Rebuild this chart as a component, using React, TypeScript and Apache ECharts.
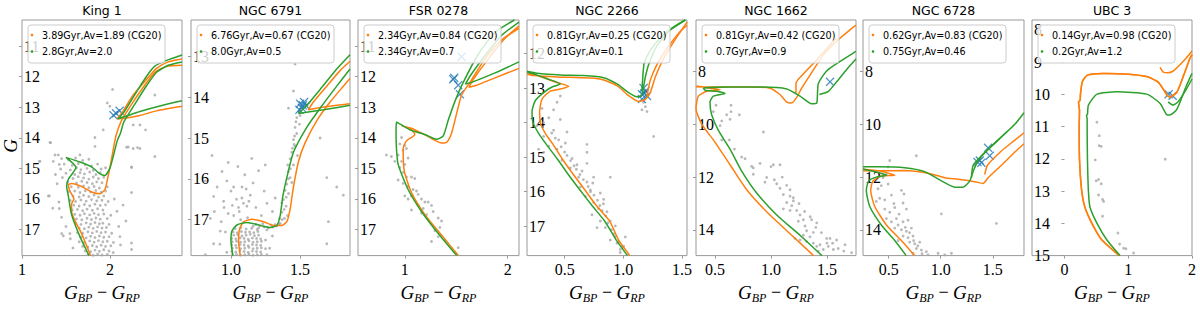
import { useEffect, useRef } from 'react';
import * as echarts from 'echarts';

const titles = ['King 1', 'NGC 6791', 'FSR 0278', 'NGC 2266', 'NGC 1662', 'NGC 6728', 'UBC 3'];
const orangeLabels = ['3.89Gyr,Av=1.89 (CG20)', '6.76Gyr,Av=0.67 (CG20)', '2.34Gyr,Av=0.84 (CG20)', '0.81Gyr,Av=0.25 (CG20)', '0.81Gyr,Av=0.42 (CG20)', '0.62Gyr,Av=0.83 (CG20)', '0.14Gyr,Av=0.98 (CG20)'];
const greenLabels = ['2.8Gyr,Av=2.0', '8.0Gyr,Av=0.5', '2.34Gyr,Av=0.7', '0.81Gyr,Av=0.1', '0.7Gyr,Av=0.9', '0.75Gyr,Av=0.46', '0.2Gyr,Av=1.2'];
const xLimits = [[1, 2.82], [0.711, 1.861], [0.545, 2.11], [0.179, 1.543], [0.33, 1.759], [0.253, 1.8], [-0.51, 2.0]];
const yLimits = [[10.15, 17.85], [12.11, 17.88], [10.15, 17.85], [11.03, 17.85], [6.05, 14.97], [6.05, 14.97], [7.69, 15.0]];
const xTicks = [[1, 2], [1.0, 1.5], [1, 2], [0.5, 1.0, 1.5], [0.5, 1.0, 1.5], [0.5, 1.0, 1.5], [0, 1, 2]];
const xDecimals = [0, 1, 0, 1, 1, 1, 0];
const yTicks = [[11, 12, 13, 14, 15, 16, 17], [13, 14, 15, 16, 17], [11, 12, 13, 14, 15, 16, 17], [12, 13, 14, 15, 16, 17], [8, 10, 12, 14], [8, 10, 12, 14], [8, 9, 10, 11, 12, 13, 14, 15]];

// ---------- King 1 ----------
const king1OrangeA = [[1.84, 18.2], [1.773, 17.8], [1.678, 17.13], [1.6, 16.7], [1.564, 16.41], [1.564, 16.16], [1.591, 16.0], [1.545, 15.74], [1.527, 15.54], [1.564, 15.49], [1.678, 15.59], [1.792, 15.77], [1.886, 15.83], [1.943, 15.69], [1.97, 15.38], [2.0, 14.97], [2.027, 14.56], [2.068, 13.94], [2.133, 13.43], [2.246, 12.91], [2.379, 12.35], [2.511, 11.86], [2.644, 11.67], [2.822, 11.63], [3.0, 11.58]];
const king1OrangeB = [[3.0, 12.9], [2.822, 12.97], [2.53, 13.12], [2.341, 13.27], [2.189, 13.35], [2.083, 13.38], [2.152, 13.12], [2.265, 12.6], [2.417, 12.09], [2.53, 11.73], [2.663, 11.52], [2.822, 11.42], [3.0, 11.35]];
const king1GreenA = [[1.82, 18.2], [1.754, 17.8], [1.659, 17.23], [1.564, 16.51], [1.527, 15.9], [1.508, 15.59], [1.527, 15.36], [1.583, 15.13], [1.614, 14.97], [1.5, 14.64], [1.659, 14.79], [1.792, 14.95], [1.879, 15.16], [1.943, 15.23], [2.0, 14.99], [2.038, 14.61], [2.083, 14.1], [2.121, 13.84], [2.159, 13.48], [2.303, 12.81], [2.417, 12.3], [2.53, 11.86], [2.663, 11.63], [2.822, 11.52], [3.0, 11.45]];
const king1GreenB = [[3.0, 12.65], [2.822, 12.79], [2.568, 12.96], [2.341, 13.14], [2.208, 13.27], [2.095, 13.38], [2.17, 13.12], [2.303, 12.5], [2.417, 11.99], [2.511, 11.66], [2.644, 11.47], [2.822, 11.29], [3.0, 11.2]];
const king1Stars = [[2.04, 13.26], [2.07, 13.2], [2.11, 13.12]];
const king1Points = [
  [2.03, 12.42], [1.97, 12.86], [2.0, 12.97], [1.924, 13.74], [2.405, 13.74], [2.511, 12.6], [1.318, 14.15], [1.83, 13.99], [2.208, 14.3], [2.314, 14.32], [2.246, 14.97], [1.3, 15.9], [1.197, 14.77], [2.246, 15.79], [2.246, 17.44], [2.265, 13.58], [2.341, 13.58],
  [1.326, 14.16], [1.375, 14.56], [1.413, 14.56], [1.356, 14.77], [1.424, 14.87], [1.205, 14.77], [1.311, 15.9], [1.424, 16.31], [1.451, 17.13], [1.545, 17.13], [1.659, 14.56], [1.83, 14.28], [2.189, 14.31], [2.265, 14.35], [2.341, 14.35], [2.511, 14.61], [2.246, 14.95], [2.182, 16.72], [2.246, 17.65], [2.114, 17.23], [2.038, 17.75],
  [1.45, 14.68], [1.53, 14.72], [1.61, 14.66], [1.69, 14.74], [1.76, 14.7],
  [1.48, 14.86], [1.57, 14.9], [1.64, 14.84], [1.72, 14.88], [1.79, 14.92], [1.86, 14.86],
  [1.44, 15.02], [1.55, 15.05], [1.62, 14.98], [1.67, 15.04], [1.74, 15.0], [1.81, 15.06], [1.9, 15.02], [1.95, 14.98],
  [1.5, 15.16], [1.6, 15.2], [1.66, 15.14], [1.71, 15.18], [1.77, 15.12], [1.84, 15.2], [1.89, 15.14],
  [1.46, 15.3], [1.58, 15.33], [1.64, 15.27], [1.7, 15.31], [1.76, 15.35], [1.81, 15.28], [1.87, 15.33], [1.93, 15.29],
  [1.52, 15.45], [1.62, 15.48], [1.68, 15.42], [1.74, 15.46], [1.8, 15.5], [1.85, 15.44], [1.91, 15.47],
  [1.56, 15.6], [1.64, 15.62], [1.7, 15.57], [1.76, 15.63], [1.82, 15.59], [1.88, 15.64], [1.97, 15.6],
  [1.53, 15.76], [1.6, 15.74], [1.66, 15.79], [1.72, 15.73], [1.78, 15.77], [1.84, 15.72], [1.9, 15.78], [1.95, 15.74],
  [1.58, 15.9], [1.65, 15.93], [1.7, 15.88], [1.76, 15.92], [1.82, 15.87], [1.87, 15.94], [1.93, 15.9],
  [1.55, 16.05], [1.61, 16.08], [1.67, 16.03], [1.73, 16.07], [1.79, 16.02], [1.85, 16.06], [1.91, 16.04], [1.98, 16.08],
  [1.59, 16.2], [1.65, 16.23], [1.71, 16.18], [1.77, 16.22], [1.83, 16.17], [1.89, 16.21], [1.95, 16.19],
  [1.57, 16.36], [1.63, 16.34], [1.69, 16.38], [1.74, 16.33], [1.8, 16.37], [1.86, 16.32], [1.92, 16.36],
  [1.6, 16.5], [1.66, 16.53], [1.71, 16.48], [1.77, 16.52], [1.82, 16.47], [1.87, 16.51], [1.93, 16.49], [2.01, 16.53],
  [1.62, 16.65], [1.68, 16.68], [1.74, 16.63], [1.79, 16.67], [1.84, 16.62], [1.89, 16.66], [1.97, 16.64],
  [1.61, 16.8], [1.67, 16.83], [1.73, 16.78], [1.78, 16.82], [1.83, 16.77], [1.88, 16.81], [1.92, 16.79], [1.99, 16.83],
  [1.65, 16.95], [1.71, 16.97], [1.76, 16.92], [1.81, 16.96], [1.86, 16.91], [1.91, 16.95], [1.96, 16.93],
  [1.63, 17.1], [1.69, 17.12], [1.75, 17.07], [1.8, 17.11], [1.85, 17.06], [1.9, 17.1], [1.95, 17.08], [2.02, 17.12],
  [1.67, 17.25], [1.73, 17.27], [1.78, 17.22], [1.83, 17.26], [1.88, 17.21], [1.93, 17.25], [1.99, 17.23],
  [1.65, 17.4], [1.71, 17.42], [1.77, 17.37], [1.82, 17.41], [1.87, 17.36], [1.92, 17.4], [1.97, 17.38], [2.04, 17.42],
  [1.69, 17.55], [1.75, 17.57], [1.8, 17.52], [1.85, 17.56], [1.9, 17.51], [1.95, 17.55], [2.01, 17.53],
  [1.72, 17.7], [1.78, 17.72], [1.83, 17.67], [1.88, 17.71], [1.93, 17.66], [1.99, 17.7],
  [1.75, 17.82], [1.81, 17.84], [1.86, 17.8], [1.91, 17.83], [1.97, 17.81],
  [1.4, 15.5], [1.42, 16.1], [1.45, 16.6], [1.5, 16.9], [1.55, 17.3], [1.58, 17.6], [2.05, 16.0], [2.08, 16.4], [2.1, 16.9], [2.12, 17.5], [2.15, 16.2], [1.38, 15.2], [1.35, 16.3], [1.47, 17.2]
];

// ---------- NGC 6791 ----------
const n6791OrangeA = [[1.07, 18.1], [1.067, 17.88], [1.055, 17.51], [1.062, 17.24], [1.091, 17.05], [1.152, 16.99], [1.236, 17.05], [1.308, 17.14], [1.368, 17.14], [1.404, 17.05], [1.428, 16.74], [1.452, 16.2], [1.488, 15.58], [1.536, 15.12], [1.62, 14.58], [1.717, 14.12], [1.813, 13.73], [1.861, 13.54], [1.981, 13.15]];
const n6791OrangeB = [[1.98, 14.12], [1.861, 14.16], [1.693, 14.23], [1.56, 14.31], [1.596, 14.12], [1.693, 13.73], [1.789, 13.35], [1.861, 13.12], [1.98, 12.85]];
const n6791GreenA = [[1.02, 18.1], [1.014, 17.88], [1.0, 17.51], [1.007, 17.28], [1.043, 17.13], [1.115, 17.07], [1.212, 17.14], [1.284, 17.19], [1.332, 17.14], [1.356, 16.9], [1.375, 16.43], [1.404, 15.97], [1.452, 15.35], [1.548, 14.74], [1.645, 14.27], [1.765, 13.73], [1.861, 13.31], [1.98, 12.88]];
const n6791GreenB = [[1.98, 14.12], [1.861, 14.2], [1.669, 14.31], [1.488, 14.4], [1.548, 14.2], [1.645, 13.81], [1.765, 13.31], [1.861, 12.96], [1.98, 12.6]];
const n6791Stars = [[1.5, 14.16], [1.529, 14.12], [1.512, 14.26], [1.544, 14.21], [1.495, 14.31], [1.52, 14.2]];
const n6791Points = [
  [0.863, 15.43], [0.935, 15.82], [0.815, 16.05], [1.019, 16.2], [0.875, 16.43], [0.947, 16.55], [1.079, 16.47], [1.055, 16.7], [1.115, 16.67], [0.851, 16.97], [0.923, 17.28], [0.875, 17.59], [0.815, 17.86], [1.248, 15.66], [1.32, 16.47], [1.693, 15.97], [1.464, 13.19], [1.452, 13.85], [1.416, 14.27], [1.645, 15.0], [1.765, 16.2], [1.813, 16.4], [1.705, 17.05], [1.693, 17.59],
  [1.476, 14.5], [1.464, 14.74], [1.476, 14.89], [1.452, 15.04], [1.464, 15.2], [1.44, 15.35], [1.428, 15.51], [1.452, 15.66], [1.416, 15.82], [1.428, 15.97], [1.404, 16.13], [1.392, 16.28], [1.416, 16.36], [1.38, 16.51], [1.399, 16.67], [1.368, 16.82], [1.387, 16.97], [1.356, 17.09], [1.495, 14.66], [1.457, 15.16], [1.481, 15.43], [1.411, 15.66], [1.44, 16.09], [1.368, 16.59], [1.409, 16.9], [1.351, 16.97], [1.49, 14.35], [1.47, 14.6], [1.445, 15.25], [1.43, 15.75], [1.415, 16.0], [1.4, 16.45], [1.385, 16.75], [1.37, 17.0], [1.5, 14.45], [1.46, 14.95],
  [1.16, 17.16], [1.18, 17.12], [1.21, 17.15], [1.24, 17.18], [1.27, 17.2], [1.3, 17.18], [1.33, 17.16], [1.2, 17.2], [1.26, 17.25], [1.32, 17.12], [1.35, 17.1], [1.23, 17.1], [1.29, 17.13],
  [1.03, 17.22], [1.07, 17.2], [1.11, 17.23], [1.15, 17.21], [1.19, 17.24],
  [1.015, 17.3], [1.045, 17.32], [1.075, 17.29], [1.105, 17.31], [1.135, 17.3], [1.165, 17.32], [1.195, 17.29],
  [1.02, 17.38], [1.05, 17.37], [1.08, 17.4], [1.11, 17.38], [1.14, 17.36], [1.17, 17.39], [1.2, 17.38],
  [1.005, 17.46], [1.035, 17.47], [1.065, 17.45], [1.095, 17.46], [1.125, 17.48], [1.155, 17.45], [1.185, 17.46], [1.215, 17.47],
  [1.01, 17.54], [1.04, 17.53], [1.07, 17.55], [1.1, 17.54], [1.13, 17.52], [1.16, 17.55], [1.19, 17.54], [1.22, 17.53],
  [1.005, 17.62], [1.035, 17.63], [1.065, 17.61], [1.095, 17.62], [1.125, 17.64], [1.155, 17.61], [1.185, 17.62], [1.215, 17.63],
  [1.01, 17.7], [1.04, 17.69], [1.07, 17.71], [1.1, 17.7], [1.13, 17.68], [1.16, 17.71], [1.19, 17.7], [1.22, 17.69], [1.25, 17.71],
  [1.005, 17.78], [1.035, 17.79], [1.065, 17.77], [1.095, 17.78], [1.125, 17.8], [1.155, 17.77], [1.185, 17.78], [1.215, 17.79],
  [1.01, 17.86], [1.04, 17.85], [1.07, 17.87], [1.1, 17.86], [1.13, 17.84], [1.16, 17.87], [1.19, 17.86], [1.22, 17.85], [1.26, 17.86],
  [0.93, 17.05], [0.96, 17.3], [0.92, 17.6], [0.97, 17.8], [1.25, 17.5], [1.28, 17.7], [1.3, 17.4], [0.98, 16.85], [1.02, 16.9], [1.06, 16.8], [1.12, 16.95], [1.09, 16.6], [1.04, 16.5], [1.14, 16.4], [1.0, 16.3], [1.18, 16.7], [1.22, 16.9], [1.26, 16.6], [0.95, 16.7], [1.08, 16.2], [1.16, 16.1], [0.9, 16.2], [1.1, 15.9], [1.2, 15.8], [1.05, 15.7], [0.98, 15.6], [1.13, 16.55], [1.07, 17.0], [1.01, 16.65], [0.88, 16.8], [1.24, 16.3], [1.3, 16.8], [1.15, 15.5], [0.97, 16.05], [1.11, 16.25]
];

// ---------- FSR 0278 ----------
const fsrOrangeA = [[1.55, 18.1], [1.519, 17.83], [1.357, 17.18], [1.195, 16.51], [1.065, 15.79], [0.994, 15.07], [0.984, 14.35], [1.016, 14.1], [1.097, 13.89], [1.049, 13.69], [0.968, 13.61], [1.065, 13.69], [1.227, 13.96], [1.357, 14.17], [1.406, 14.15], [1.455, 13.84], [1.503, 13.22], [1.552, 12.6], [1.643, 12.14], [1.779, 11.42], [1.942, 10.8], [2.11, 10.42], [2.2, 10.3]];
const fsrOrangeB = [[2.2, 11.62], [2.11, 11.73], [1.877, 12.04], [1.682, 12.3], [1.623, 12.35], [1.666, 12.09], [1.812, 11.42], [1.974, 10.75], [2.11, 10.34], [2.2, 10.2]];
const fsrGreenA = [[1.53, 18.1], [1.503, 17.83], [1.325, 17.13], [1.162, 16.41], [1.032, 15.69], [0.935, 14.87], [0.919, 14.35], [0.915, 13.9], [0.919, 13.48], [1.049, 13.74], [1.195, 13.89], [1.308, 14.05], [1.373, 13.94], [1.422, 13.43], [1.487, 12.81], [1.568, 12.19], [1.714, 11.27], [1.877, 10.55], [2.071, 10.14], [2.2, 9.95]];
const fsrGreenB = [[2.2, 11.45], [2.11, 11.52], [1.877, 11.88], [1.649, 12.19], [1.591, 12.24], [1.633, 11.99], [1.779, 11.32], [1.942, 10.65], [2.11, 10.22], [2.2, 10.1]];
const fsrStars = [[1.471, 12.09], [1.48, 12.04], [1.519, 12.28], [1.536, 12.58], [1.552, 11.35]];
const fsrPoints = [[0.968, 13.99], [0.951, 14.2], [1.0, 14.25], [0.984, 14.41], [1.016, 14.35], [0.935, 14.56], [0.87, 14.61], [0.821, 14.56], [0.903, 14.77], [0.968, 14.77], [1.0, 14.87], [1.032, 14.66], [0.951, 14.97], [0.984, 15.13], [1.016, 15.28], [1.065, 15.28], [1.097, 15.33], [0.935, 15.38], [0.984, 15.49], [1.032, 15.59], [1.081, 15.69], [1.114, 15.74], [1.13, 15.85], [1.162, 16.0], [1.195, 16.1], [1.227, 16.1], [1.26, 16.21], [1.179, 16.31], [1.13, 16.21], [1.065, 15.9], [1.0, 15.9], [1.032, 16.0], [1.162, 16.46], [1.211, 16.51], [1.276, 16.41], [1.325, 16.62], [1.357, 16.72], [1.341, 16.93], [1.292, 17.03], [1.26, 17.39], [1.325, 17.23], [1.39, 17.34], [1.519, 17.59], [1.065, 16.36]];

// ---------- NGC 2266 ----------
const n2266OrangeA = [[1.08, 18.1], [1.051, 17.83], [0.96, 17.4], [0.884, 16.85], [0.77, 16.4], [0.662, 15.9], [0.563, 15.45], [0.477, 15.04], [0.401, 14.63], [0.335, 14.31], [0.293, 14.0], [0.287, 13.68], [0.307, 13.32], [0.378, 13.09], [0.463, 13.03], [0.534, 12.95], [0.435, 12.84], [0.307, 12.68], [0.179, 12.54], [0.05, 12.47], [0.05, 12.52], [0.236, 12.64], [0.435, 12.68], [0.634, 12.7], [0.804, 12.74], [0.946, 12.93], [1.045, 13.22], [1.131, 13.39], [1.188, 13.33], [1.23, 13.13], [1.273, 12.68], [1.344, 12.14], [1.443, 11.59], [1.543, 11.09], [1.628, 10.87]];
const n2266OrangeB = [[1.202, 13.23], [1.23, 12.77], [1.287, 12.32], [1.372, 11.86], [1.472, 11.41], [1.543, 11.18], [1.628, 11.05]];
const n2266GreenA = [[1.06, 18.1], [1.031, 17.83], [0.94, 17.4], [0.841, 16.85], [0.733, 16.4], [0.619, 15.9], [0.52, 15.45], [0.435, 15.04], [0.344, 14.63], [0.278, 14.31], [0.23, 14.0], [0.222, 13.68], [0.25, 13.36], [0.321, 13.13], [0.392, 12.97], [0.463, 12.88], [0.349, 12.73], [0.236, 12.59], [0.122, 12.5], [0.05, 12.47], [0.05, 12.43], [0.122, 12.48], [0.264, 12.57], [0.463, 12.62], [0.662, 12.64], [0.832, 12.7], [0.946, 12.88], [1.045, 13.13], [1.116, 13.25], [1.151, 13.23], [1.168, 13.04], [1.188, 12.68], [1.216, 12.32], [1.287, 11.77], [1.401, 11.32], [1.543, 11.0], [1.628, 10.87]];
const n2266GreenB = [[1.159, 13.09], [1.168, 12.59], [1.179, 12.27], [1.23, 11.91], [1.315, 11.55], [1.429, 11.23], [1.528, 11.03], [1.628, 10.9]];
const n2266Stars = [[1.159, 13.18], [1.188, 13.09], [1.173, 13.0], [1.202, 13.23], [1.159, 13.32], [1.18, 13.15]];
const n2266Points = [[0.463, 13.23], [0.435, 13.41], [0.406, 13.63], [0.307, 13.59], [0.364, 13.86], [0.463, 13.91], [0.321, 14.0], [0.264, 14.09], [0.406, 14.22], [0.321, 14.4], [0.449, 14.5], [0.506, 14.59], [0.364, 14.68], [0.278, 14.77], [0.321, 14.86], [0.435, 14.77], [0.52, 14.95], [0.563, 15.04], [0.477, 15.09], [0.605, 15.22], [0.548, 15.31], [0.648, 15.4], [0.69, 15.18], [0.619, 15.58], [0.69, 15.72], [0.747, 15.58], [0.634, 15.86], [0.719, 15.95], [0.804, 16.04], [0.889, 15.58], [0.676, 16.13], [0.747, 16.31], [0.832, 16.22], [0.79, 16.49], [0.861, 16.58], [0.804, 16.85], [0.889, 16.85], [0.847, 17.04], [0.918, 17.22], [0.889, 17.4], [0.946, 17.49], [1.003, 17.58], [0.974, 17.67], [1.017, 17.31], [0.932, 16.99], [0.733, 16.67], [0.776, 17.04], [0.974, 17.76], [1.259, 14.4], [1.173, 13.41], [1.188, 13.54], [1.202, 13.68], [1.159, 13.63], [0.69, 14.63], [0.52, 14.27], [0.69, 14.86], [0.39, 14.3], [0.42, 14.45], [0.47, 14.7], [0.5, 14.85], [0.55, 15.1], [0.58, 15.25], [0.6, 15.35], [0.63, 15.5], [0.66, 15.65], [0.7, 15.85], [0.72, 16.0], [0.75, 16.1], [0.78, 16.25], [0.8, 16.4], [0.82, 16.55], [0.85, 16.7], [0.87, 16.9], [0.9, 17.1], [0.93, 17.3], [0.96, 17.45], [0.99, 17.6], [0.83, 16.35], [0.74, 15.75]];

// ---------- NGC 1662 ----------
const n1662OrangeA = [[1.42, 15.4], [1.378, 14.95], [1.17, 14.14], [0.961, 13.31], [0.783, 12.48], [0.634, 11.53], [0.485, 10.59], [0.381, 9.99], [0.33, 9.4], [0.351, 8.93], [0.426, 8.75], [0.545, 8.69], [0.455, 8.63], [0.336, 8.55], [0.247, 8.51], [0.2, 8.5], [0.2, 8.57], [0.247, 8.57], [0.485, 8.59], [0.783, 8.59], [0.991, 8.63], [1.08, 8.87], [1.14, 9.16], [1.185, 9.19], [1.229, 8.98], [1.274, 8.63], [1.363, 8.04], [1.467, 7.38], [1.586, 6.85], [1.735, 6.32], [1.795, 6.14], [1.85, 5.9]];
const n1662OrangeB = [[1.223, 8.81], [1.223, 8.45], [1.289, 8.09], [1.408, 7.56], [1.557, 6.85], [1.586, 6.73]];
const n1662GreenA = [[1.5, 15.4], [1.452, 14.95], [1.259, 14.2], [1.051, 13.43], [0.872, 12.6], [0.738, 11.77], [0.634, 10.94], [0.53, 10.23], [0.47, 9.64], [0.455, 9.16], [0.485, 8.93], [0.589, 8.83], [0.515, 8.75], [0.411, 8.71], [0.396, 8.63], [0.634, 8.59], [0.932, 8.59], [1.14, 8.66], [1.259, 8.93], [1.363, 9.22], [1.408, 9.19], [1.414, 8.93], [1.423, 8.45], [1.497, 7.98], [1.616, 7.62], [1.75, 7.26], [1.854, 7.03]];
const n1662GreenB = [[1.432, 8.87], [1.512, 8.75], [1.586, 8.39], [1.676, 7.92], [1.765, 7.5], [1.85, 7.1]];
const n1662Stars = [[1.527, 8.39]];
const n1662Points = [[0.509, 9.28], [0.643, 9.28], [0.485, 9.52], [0.643, 9.52], [0.717, 9.64], [0.56, 9.87], [0.545, 10.05], [0.634, 9.81], [0.56, 10.59], [0.628, 10.59], [0.673, 10.94], [0.932, 10.29], [0.738, 11.24], [0.768, 11.3], [0.827, 11.59], [0.842, 11.65], [0.902, 11.48], [1.021, 11.53], [1.08, 11.53], [0.842, 11.89], [0.961, 12.01], [0.946, 12.19], [1.051, 12.25], [1.08, 12.42], [1.14, 12.31], [1.17, 12.48], [1.11, 12.66], [1.17, 12.72], [1.199, 12.78], [1.14, 12.96], [1.185, 13.08], [1.11, 13.2], [1.17, 13.26], [1.229, 13.26], [1.259, 13.43], [1.244, 13.67], [1.289, 13.61], [1.363, 13.61], [1.408, 13.73], [1.304, 13.85], [1.318, 14.03], [1.378, 14.09], [1.289, 14.2], [1.214, 14.32], [1.259, 14.38], [1.348, 14.26], [1.318, 14.44], [1.378, 14.5], [1.408, 14.62], [1.437, 14.56], [1.497, 14.32], [1.527, 14.32], [1.586, 14.38], [1.512, 14.62], [1.557, 14.74], [1.661, 14.56], [1.72, 14.86], [1.467, 14.74], [1.423, 14.8], [0.604, 9.64], [1.0, 11.6], [1.03, 12.1], [1.1, 12.0], [1.2, 12.9], [1.25, 13.0], [1.3, 13.3], [1.35, 13.5], [1.4, 13.9], [1.45, 14.1], [1.5, 14.5], [1.55, 14.5], [1.6, 14.7], [1.65, 14.8]];

// ---------- NGC 6728 ----------
const n6728OrangeA = [[0.79, 15.3], [0.75, 14.98], [0.622, 14.4], [0.478, 13.81], [0.365, 13.1], [0.327, 12.5], [0.349, 12.14], [0.429, 11.96], [0.558, 11.93], [0.462, 11.81], [0.333, 11.73], [0.205, 11.69], [0.15, 11.7], [0.15, 11.76], [0.205, 11.76], [0.397, 11.76], [0.654, 11.75], [0.878, 11.85], [1.038, 12.02], [1.167, 12.08], [1.327, 12.17], [1.407, 12.24], [1.455, 12.02], [1.583, 11.55], [1.712, 11.05], [1.824, 10.65]];
const n6728OrangeB = [[1.423, 11.9], [1.449, 11.55], [1.583, 11.01], [1.712, 10.6], [1.824, 10.24]];
const n6728GreenA = [[0.7, 15.3], [0.67, 14.98], [0.558, 14.4], [0.429, 13.81], [0.317, 13.1], [0.285, 12.5], [0.308, 12.14], [0.381, 12.0], [0.478, 11.93], [0.365, 11.79], [0.253, 11.69], [0.15, 11.65], [0.15, 11.6], [0.253, 11.61], [0.397, 11.61], [0.654, 11.64], [0.846, 11.79], [1.006, 12.14], [1.135, 12.38], [1.215, 12.38], [1.279, 12.14], [1.311, 11.79], [1.359, 11.37], [1.455, 10.95], [1.583, 10.48], [1.712, 10.0], [1.808, 9.52], [1.9, 9.2]];
const n6728GreenB = [[1.295, 12.02], [1.311, 11.55], [1.391, 11.19], [1.519, 10.71], [1.638, 10.27]];
const n6728Stars = [[1.455, 10.89], [1.471, 11.19], [1.375, 11.37], [1.391, 11.45], [1.353, 11.43]];
const n6728Points = [[0.51, 11.37], [0.494, 11.61], [0.766, 11.19], [0.478, 11.88], [0.397, 12.44], [0.429, 12.32], [0.494, 12.26], [0.413, 12.8], [0.381, 12.92], [0.462, 12.86], [0.526, 12.68], [0.622, 12.5], [0.647, 12.64], [0.462, 13.21], [0.51, 13.33], [0.558, 13.15], [0.638, 12.98], [0.67, 13.21], [0.478, 13.57], [0.526, 13.69], [0.574, 13.57], [0.59, 13.81], [0.638, 13.69], [0.686, 13.63], [0.558, 13.93], [0.622, 13.99], [0.67, 14.05], [0.718, 13.93], [0.638, 14.23], [0.686, 14.29], [0.734, 14.23], [0.702, 14.46], [0.75, 14.52], [0.798, 14.46], [0.766, 14.7], [0.814, 14.76], [0.862, 14.82], [0.734, 14.88], [0.878, 14.94], [0.974, 14.88], [1.038, 14.94], [1.103, 14.88], [1.006, 13.39], [1.535, 13.75], [0.59, 14.4], [0.446, 12.02], [0.6, 13.4], [0.66, 13.9], [0.7, 14.1], [0.74, 14.4], [0.78, 14.6], [0.82, 14.9], [0.55, 13.0]];

// ---------- UBC 3 ----------
const ubc3OrangeA = [[0.9, 15.2], [0.86, 15.0], [0.58, 14.5], [0.43, 14.0], [0.32, 13.5], [0.27, 13.0], [0.235, 12.0], [0.23, 11.0], [0.235, 10.5], [0.22, 10.23], [0.245, 10.18], [0.25, 10.0], [0.28, 9.6], [0.36, 9.4], [0.6, 9.35], [1.0, 9.37], [1.3, 9.45], [1.47, 9.62], [1.55, 9.84], [1.6, 10.0], [1.65, 10.08], [1.76, 9.94], [1.87, 9.4], [1.97, 8.87], [2.05, 8.6]];
const ubc3OrangeB = [[1.5, 9.16], [1.55, 9.31], [1.62, 9.33], [1.7, 9.28], [1.8, 9.1], [1.91, 8.87], [2.0, 8.65], [2.05, 8.5]];
const ubc3GreenA = [[0.95, 15.3], [0.87, 15.0], [0.66, 14.5], [0.51, 14.0], [0.4, 13.5], [0.375, 13.0], [0.36, 12.0], [0.355, 11.0], [0.355, 10.75], [0.345, 10.65], [0.36, 10.62], [0.375, 10.33], [0.51, 9.99], [0.82, 9.92], [1.29, 9.99], [1.5, 10.28], [1.6, 10.62], [1.65, 10.64], [1.76, 10.47], [1.91, 9.74], [2.02, 9.26]];
const ubc3GreenB = [[1.625, 10.23], [1.7, 10.33], [1.78, 10.23], [1.91, 9.84], [2.02, 9.45]];
const ubc3Stars = [[1.634, 9.99], [1.696, 10.04]];
const ubc3Points = [[0.508, 10.86], [0.545, 11.28], [0.545, 11.59], [0.576, 11.61], [0.482, 12.03], [0.497, 12.68], [0.534, 12.64], [0.576, 12.77], [0.534, 13.12], [0.597, 13.26], [0.613, 13.32], [0.597, 13.78], [0.838, 14.3], [0.864, 14.64], [0.927, 14.77], [0.963, 14.79], [1.084, 14.92], [1.581, 12.01]];

const orangeSets = [[king1OrangeA, king1OrangeB], [n6791OrangeA, n6791OrangeB], [fsrOrangeA, fsrOrangeB], [n2266OrangeA, n2266OrangeB], [n1662OrangeA, n1662OrangeB], [n6728OrangeA, n6728OrangeB], [ubc3OrangeA, ubc3OrangeB]];
const greenSets = [[king1GreenA, king1GreenB], [n6791GreenA, n6791GreenB], [fsrGreenA, fsrGreenB], [n2266GreenA, n2266GreenB], [n1662GreenA, n1662GreenB], [n6728GreenA, n6728GreenB], [ubc3GreenA, ubc3GreenB]];
const starSets = [king1Stars, n6791Stars, fsrStars, n2266Stars, n1662Stars, n6728Stars, ubc3Stars];
const pointSets = [king1Points, n6791Points, fsrPoints, n2266Points, n1662Points, n6728Points, ubc3Points];

const GRID_LEFT = [22, 191, 358, 527, 696, 863, 1032];
const GRID_W = [160, 159, 161, 160, 160, 161, 160];
const GRID_TOP = 20;
const GRID_H = 249;
const ORANGE = '#ff7f0e';
const GREEN = '#2ca02c';
const BLUE = '#1f77b4';
const SPINE = '#999999';
const SERIF = 'Liberation Serif';
const SANS = 'DejaVu Sans';
const XMARK = 'path://M1,0L5,4L9,0L10,1L6,5L10,9L9,10L5,6L1,10L0,9L4,5L0,1Z';

// Cut a polyline to the axis window (Liang-Barsky), breaking it with gaps where it leaves the window.
function clipToWindow(pts: number[][], x0: number, x1: number, y0: number, y1: number) {
  const out: number[][] = [];
  let open = false;
  for (let k = 0; k < pts.length - 1; k++) {
    const ax = pts[k][0], ay = pts[k][1], bx = pts[k + 1][0], by = pts[k + 1][1];
    const dx = bx - ax, dy = by - ay;
    const p = [-dx, dx, -dy, dy];
    const q = [ax - x0, x1 - ax, ay - y0, y1 - ay];
    let t0 = 0, t1 = 1, ok = true;
    for (let j = 0; j < 4; j++) {
      if (p[j] === 0) {
        if (q[j] < 0) { ok = false; break; }
      } else {
        const r = q[j] / p[j];
        if (p[j] < 0) { if (r > t1) { ok = false; break; } if (r > t0) t0 = r; }
        else { if (r < t0) { ok = false; break; } if (r < t1) t1 = r; }
      }
    }
    if (!ok || t1 - t0 <= 0) { open = false; continue; }
    if (!open) {
      if (out.length) out.push([NaN, NaN]);
      out.push([ax + t0 * dx, ay + t0 * dy]);
    }
    out.push([ax + t1 * dx, ay + t1 * dy]);
    open = t1 >= 1;
  }
  return out;
}

// Split a gap-separated point list into runs
function runsOf(pts: number[][]) {
  const runs: number[][][] = [];
  let cur: number[][] = [];
  pts.forEach((p) => {
    if (isNaN(p[0]) || isNaN(p[1])) { if (cur.length > 1) runs.push(cur); cur = []; }
    else cur.push(p);
  });
  if (cur.length > 1) runs.push(cur);
  return runs;
}

export default function App() {
  const ref = useRef<HTMLDivElement>(null);
  useEffect(() => {
    if (!ref.current) return;
    const chart = echarts.init(ref.current, undefined, { renderer: 'svg' });
    const grid: any[] = [];
    const xAxis: any[] = [];
    const yAxis: any[] = [];
    const series: any[] = [];
    const graphic: any[] = [];
    for (let i = 0; i < 7; i++) {
      grid.push({ left: GRID_LEFT[i], top: GRID_TOP, width: GRID_W[i], height: GRID_H, show: true, borderColor: SPINE, borderWidth: 1, backgroundColor: 'transparent', containLabel: false });
      const dec = xDecimals[i];
      xAxis.push({
        type: 'value', gridIndex: i, min: xLimits[i][0], max: xLimits[i][1],
        splitLine: { show: false }, axisLine: { show: false },
        axisTick: { show: true, length: 3, lineStyle: { color: SPINE }, customValues: xTicks[i] },
        axisLabel: { customValues: xTicks[i], formatter: (v: number) => v.toFixed(dec), color: '#000', fontFamily: SERIF, fontSize: 16, margin: 6 },
        name: '{g|G}{s|BP}{m| − }{g|G}{s|RP}', nameLocation: 'middle', nameGap: 16,
        nameTextStyle: {
          rich: {
            g: { fontFamily: SERIF, fontStyle: 'italic', fontSize: 19, lineHeight: 24, color: '#000', verticalAlign: 'middle' },
            s: { fontFamily: SERIF, fontStyle: 'italic', fontSize: 12, lineHeight: 10, color: '#000', verticalAlign: 'bottom' },
            m: { fontFamily: SERIF, fontSize: 18, lineHeight: 24, color: '#000', verticalAlign: 'middle' }
          }
        }
      });
      yAxis.push({
        type: 'value', gridIndex: i, inverse: true, min: yLimits[i][0], max: yLimits[i][1],
        splitLine: { show: false }, axisLine: { show: false },
        axisTick: { show: true, length: 3, lineStyle: { color: SPINE }, customValues: yTicks[i] },
        axisLabel: { inside: true, customValues: yTicks[i], color: '#000', fontFamily: SERIF, fontSize: 16, margin: 2 }
      });
      const [xa, xb] = xLimits[i];
      const [ya, yb] = yLimits[i];
      series.push({ type: 'scatter', xAxisIndex: i, yAxisIndex: i, data: pointSets[i], symbol: 'circle', symbolSize: 2.8, itemStyle: { color: '#a6a6a6' }, silent: true });
      orangeSets[i].forEach((d) => series.push({ type: 'line', xAxisIndex: i, yAxisIndex: i, data: clipToWindow(d, xa, xb, ya, yb), clip: false, connectNulls: false, showSymbol: false, symbol: 'none', smooth: 0.2, lineStyle: { color: ORANGE, width: 1.5 }, silent: true }));
      greenSets[i].forEach((d) => series.push({ type: 'line', xAxisIndex: i, yAxisIndex: i, data: clipToWindow(d, xa, xb, ya, yb), clip: false, connectNulls: false, showSymbol: false, symbol: 'none', smooth: 0.2, lineStyle: { color: GREEN, width: 1.5 }, silent: true }));
      series.push({ type: 'scatter', xAxisIndex: i, yAxisIndex: i, data: starSets[i], symbol: XMARK, symbolSize: 9, itemStyle: { color: BLUE }, silent: true });

      const L = GRID_LEFT[i];
      graphic.push({ type: 'text', x: L + GRID_W[i] / 2, y: 10, z: 100, style: { text: titles[i], fontFamily: SANS, fontSize: 12.5, fill: '#000', align: 'center', verticalAlign: 'middle' } });
      graphic.push({ type: 'rect', shape: { x: L + 6, y: 25, width: 137, height: 38, r: 3 }, style: { fill: 'rgba(255,255,255,0.8)', stroke: '#cccccc', lineWidth: 1 }, z: 100 });
      graphic.push({ type: 'circle', shape: { cx: L + 10, cy: 35, r: 1.3 }, style: { fill: ORANGE }, z: 101 });
      graphic.push({ type: 'circle', shape: { cx: L + 10, cy: 51.5, r: 1.3 }, style: { fill: GREEN }, z: 101 });
      graphic.push({ type: 'text', x: L + 20, y: 35, z: 101, style: { text: orangeLabels[i], fontFamily: SANS, fontSize: 9.6, fill: '#000', verticalAlign: 'middle' } });
      graphic.push({ type: 'text', x: L + 20, y: 51.5, z: 101, style: { text: greenLabels[i], fontFamily: SANS, fontSize: 9.6, fill: '#000', verticalAlign: 'middle' } });
    }

    // UBC 3 main orange isochrone, also drawn through a custom series on the same axes
    const ubcRuns = runsOf(clipToWindow(ubc3OrangeA, xLimits[6][0], xLimits[6][1], yLimits[6][0], yLimits[6][1]));
    series.push({
      type: 'custom', xAxisIndex: 6, yAxisIndex: 6, data: [0], silent: true, z: 3,
      renderItem: (_params: any, api: any) => ({
        type: 'group',
        children: ubcRuns.map((run) => ({
          type: 'polyline',
          shape: { points: run.map((p) => api.coord(p)), smooth: 0.2 },
          style: { stroke: ORANGE, lineWidth: 1.5, fill: 'none' }
        }))
      })
    });

    graphic.push({ type: 'text', x: 10, y: 146, rotation: Math.PI / 2, z: 100, style: { text: 'G', fontFamily: SERIF, fontStyle: 'italic', fontSize: 19, fill: '#000', align: 'center', verticalAlign: 'middle' } });

    chart.setOption({ animation: false, backgroundColor: '#fff', grid, xAxis, yAxis, series, graphic });
    return () => chart.dispose();
  }, []);
  return <div ref={ref} style={{ position: 'absolute', left: 0, top: 0, width: 1200, height: 309 }} />;
}
